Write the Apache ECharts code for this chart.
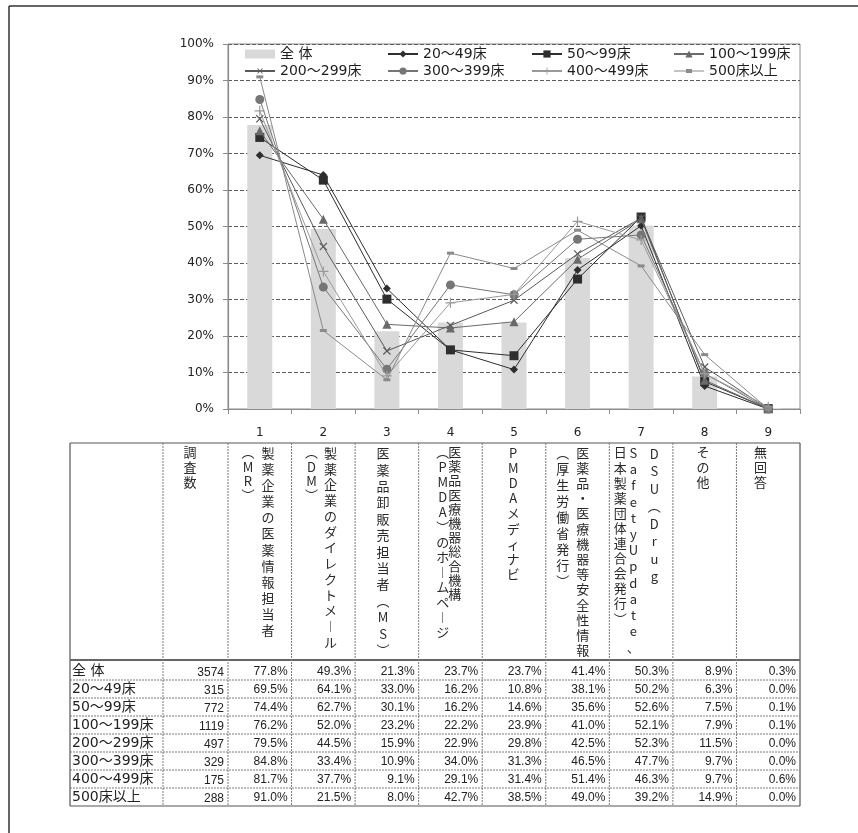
<!DOCTYPE html>
<html>
<head>
<meta charset="utf-8">
<script src="https://cdn.jsdelivr.net/npm/echarts@6/dist/echarts.min.js"></script>
<style>
html,body{margin:0;padding:0;background:#fff;}
#chart{width:858px;height:833px;}
</style>
</head>
<body>
<div id="chart"></div>
<script>
// Information sources (columns 1-9)
const categories = ['1', '2', '3', '4', '5', '6', '7', '8', '9'];

// Respondent groups by bed count
const groupNames = ['全 体', '20～49床', '50～99床', '100～199床', '200～299床', '300～399床', '400～499床', '500床以上'];
const respondentCounts = [3574, 315, 772, 1119, 497, 329, 175, 288];

// Share of respondents (%) per source
const allHospitals = [77.8, 49.3, 21.3, 23.7, 23.7, 41.4, 50.3, 8.9, 0.3];
const beds20to49   = [69.5, 64.1, 33.0, 16.2, 10.8, 38.1, 50.2, 6.3, 0.0];
const beds50to99   = [74.4, 62.7, 30.1, 16.2, 14.6, 35.6, 52.6, 7.5, 0.1];
const beds100to199 = [76.2, 52.0, 23.2, 22.2, 23.9, 41.0, 52.1, 7.9, 0.1];
const beds200to299 = [79.5, 44.5, 15.9, 22.9, 29.8, 42.5, 52.3, 11.5, 0.0];
const beds300to399 = [84.8, 33.4, 10.9, 34.0, 31.3, 46.5, 47.7, 9.7, 0.0];
const beds400to499 = [81.7, 37.7, 9.1, 29.1, 31.4, 51.4, 46.3, 9.7, 0.6];
const beds500plus  = [91.0, 21.5, 8.0, 42.7, 38.5, 49.0, 39.2, 14.9, 0.0];

// Y axis ticks (%)
const yTicks = [0, 10, 20, 30, 40, 50, 60, 70, 80, 90, 100];

const groupValues = [allHospitals, beds20to49, beds50to99, beds100to199,
                     beds200to299, beds300to399, beds400to499, beds500plus];

// Vertical column headings of the table (columns listed left to right)
const headerTexts = [
  ['調査数'],
  ['︵MR︶', '製薬企業の医薬情報担当者'],
  ['︵DM︶', '製薬企業のダイレクトメ︱ル'],
  ['医薬品卸販売担当者︵MS︶'],
  ['︵PMDA︶のホ︱ムペ︱ジ', '医薬品医療機器総合機構'],
  ['PMDAメディナビ'],
  ['︵厚生労働省発行︶', '医薬品・医療機器等安全性情報'],
  ['日本製薬団体連合会発行︶', 'SafetyUpdate、', 'DSU︵Drug'],
  ['その他'],
  ['無回答']
];

// ---- styling ----
const PLUS = 'path://M4.4,0H5.6V10H4.4Z M0,4.4H10V5.6H0Z';
const DASH_ICON = 'path://M0,4.5H30V5.5H0Z M12,3H18V7H12Z';
const lineStyles = [
  null,
  {color: '#2e2e2e', symbol: 'diamond', size: 8},
  {color: '#2e2e2e', symbol: 'rect', size: 9},
  {color: '#6a6a6a', symbol: 'triangle', size: 9},
  {color: '#5a5a5a', symbol: PLUS, size: 10, rotate: 45},
  {color: '#767676', symbol: 'circle', size: 9},
  {color: '#9a9a9a', symbol: PLUS, size: 10},
  {color: '#8a8a8a', symbol: 'rect', size: [7, 3], legendIcon: DASH_ICON}
];
const labelFont = '"DejaVu Sans", "Noto Sans CJK JP"';

const chart = echarts.init(document.getElementById('chart'), null, {renderer: 'canvas'});

const series = groupNames.map((name, gi) => {
  if (gi === 0) {
    return {
      name, type: 'bar', data: groupValues[gi], barWidth: 25,
      itemStyle: {color: '#d9d9d9'}, z: 1
    };
  }
  const st = lineStyles[gi];
  return {
    name, type: 'line', data: groupValues[gi],
    symbol: st.symbol, symbolSize: st.size, symbolRotate: st.rotate || 0,
    showAllSymbol: true,
    lineStyle: {color: st.color, width: 1},
    itemStyle: {color: st.color},
    z: 2 + gi
  };
});

const legendText = {fontFamily: labelFont, fontSize: 14, color: '#1e1e1e'};
const legendCols = [[0, 4], [1, 5], [2, 6], [3, 7]];
const legendLeft = [244, 387, 531, 673];
const legendItem = i => {
  if (i === 0) return {name: groupNames[i], icon: 'rect'};
  if (lineStyles[i].legendIcon) return {name: groupNames[i], icon: lineStyles[i].legendIcon};
  return {name: groupNames[i]};
};
const legends = legendCols.map((col, k) => ({
  orient: 'vertical', left: legendLeft[k], top: 47, itemGap: 3,
  itemWidth: 30, itemHeight: 9, padding: 0,
  textStyle: legendText,
  data: col.map(legendItem)
}));

chart.setOption({
  animation: false,
  backgroundColor: '#fff',
  grid: {left: 228, right: 58, top: 44, bottom: 424, show: true, borderColor: '#8c8c8c', borderWidth: 1},
  legend: legends,
  xAxis: {
    type: 'category', data: categories, boundaryGap: true,
    axisLine: {lineStyle: {color: '#8c8c8c', width: 1.2}},
    axisTick: {show: true, alignWithLabel: false, length: 5, lineStyle: {color: '#8c8c8c'}},
    axisLabel: {margin: 18, fontFamily: 'DejaVu Sans', fontSize: 12, color: '#222'}
  },
  yAxis: {
    type: 'value', min: yTicks[0], max: yTicks[yTicks.length - 1], interval: yTicks[1] - yTicks[0],
    axisLine: {show: true, lineStyle: {color: '#8c8c8c', width: 1.2}},
    axisTick: {show: true, length: 5, lineStyle: {color: '#8c8c8c'}},
    axisLabel: {margin: 14, formatter: '{value}%', fontFamily: 'DejaVu Sans', fontSize: 12, color: '#222'},
    splitLine: {lineStyle: {color: '#5c5c5c', type: [4, 2], width: 1}}
  },
  series
});

// ---- table under the chart, aligned with the category columns ----
const centers = categories.map(c => chart.convertToPixel({xAxisIndex: 0}, c));
const step = centers[1] - centers[0];
const colEdges = centers.map(c => c - step / 2);
colEdges.push(centers[centers.length - 1] + step / 2);

const tableLeft = 70, labelRight = 163, countRight = colEdges[0];
const tableRight = colEdges[colEdges.length - 1];
const tableTop = 443, headerBottom = 660, rowTop = 662, rowH = 18;
const tableBottom = rowTop + rowH * groupNames.length;

const g = [];
const line = (x1, y1, x2, y2, style) => g.push({
  type: 'line', shape: {x1, y1, x2, y2}, style, silent: true, z: 10
});
const solid = {stroke: '#555', lineWidth: 1.2};
const dotted = {stroke: '#7a7a7a', lineWidth: 1, lineDash: [2, 1]};

// outer page frame (top and left)
line(9, 6, 858, 6, {stroke: '#333', lineWidth: 1.5});
line(9, 6, 9, 833, {stroke: '#333', lineWidth: 1.5});

// table borders
line(tableLeft, tableTop, tableRight, tableTop, solid);
line(tableLeft, tableBottom, tableRight, tableBottom, solid);
line(tableLeft, tableTop, tableLeft, tableBottom, solid);
line(tableRight, tableTop, tableRight, tableBottom, solid);
line(tableLeft, headerBottom, tableRight, headerBottom, {stroke: '#666', lineWidth: 2});
const innerX = [labelRight].concat(colEdges.slice(0, -1));
innerX.forEach(x => line(x, tableTop, x, tableBottom, dotted));
for (let r = 1; r < groupNames.length; r++) {
  line(tableLeft, rowTop + r * rowH, tableRight, rowTop + r * rowH, dotted);
}

// header column text offsets from the cell's left edge, and character pitch
const headerOffsets = [[27], [20, 40], [20, 39], [28], [24, 36], [31], [17, 37], [11, 24, 45], [30], [24]];
const headerPitch = [[15], [14.4, 16.1], [14.4, 15.75], [16.4], [15, 14.2], [15.2], [16, 15.2], [15.1, 16.2, 17.5], [15], [15]];
const cellLefts = [labelRight].concat(colEdges.slice(0, -1));
headerTexts.forEach((cols, ci) => {
  cols.forEach((txt, k) => {
    g.push({
      type: 'text', silent: true, z: 11,
      x: cellLefts[ci] + headerOffsets[ci][k], y: 445,
      style: {
        text: Array.from(txt).join('\n'),
        font: '13px "Noto Sans CJK JP"', fill: '#2a2a2a',
        align: 'center', verticalAlign: 'top', lineHeight: headerPitch[ci][k]
      }
    });
  });
});

// body rows
groupNames.forEach((name, r) => {
  const yMid = rowTop + r * rowH + rowH / 2 + 1;
  g.push({type: 'text', silent: true, z: 11, x: tableLeft + 2, y: yMid - 1,
    style: {text: name, font: '14px ' + labelFont, fill: '#222', align: 'left', verticalAlign: 'middle'}});
  g.push({type: 'text', silent: true, z: 11, x: countRight - 4, y: yMid + 1,
    style: {text: String(respondentCounts[r]), font: '12px "Liberation Sans"', fill: '#222', align: 'right', verticalAlign: 'middle'}});
  groupValues[r].forEach((v, c) => {
    g.push({type: 'text', silent: true, z: 11, x: colEdges[c + 1] - 4, y: yMid,
      style: {text: v.toFixed(1) + '%', font: '12px "Liberation Sans"', fill: '#222', align: 'right', verticalAlign: 'middle'}});
  });
});

chart.setOption({graphic: g});
</script>
</body>
</html>
